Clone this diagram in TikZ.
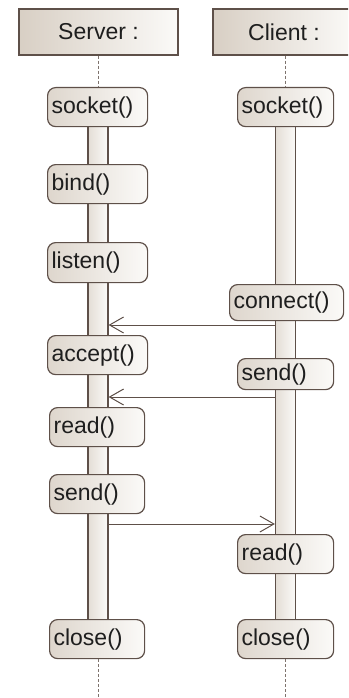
\documentclass[tikz,border=0pt]{standalone}
\usepackage{fontspec}
\setmainfont{Liberation Sans}
\usetikzlibrary{arrows.meta}
\definecolor{edge}{HTML}{5E5049}
\definecolor{fillL}{HTML}{D8CFC4}
\definecolor{fillR}{HTML}{FBFAF8}
\definecolor{txt}{HTML}{1E1E1E}
\tikzset{
  hdr/.style={draw=edge, line width=1.2pt, left color=fillL, right color=fillR,
    minimum height=46pt, inner sep=0pt, text=txt, font=\fontsize{23}{26}\selectfont},
  opbox/.style n args={3}{draw=edge, line width=1.2pt, rounded corners=8pt,
    left color=fillL!85, right color=fillR, minimum width=#1pt, minimum height=#2pt,
    text width=#3pt, align=left, inner xsep=4pt, inner ysep=0pt, text=txt,
    font=\fontsize{23}{26}\selectfont},
  actbar/.style={draw=edge, line width=1.2pt, left color=fillL!70, right color=fillR,
    minimum width=20pt, inner sep=0pt},
  life/.style={draw=edge!80, line width=0.9pt, dash pattern=on 3pt off 2pt},
  msg/.style={draw=edge, line width=1pt, -{Straight Barb[length=14pt,width=16pt,line width=1pt]}}
}
\begin{document}
\begin{tikzpicture}[x=1pt,y=-1pt]
\useasboundingbox (0,0) rectangle (348,698);
\clip (0,0) rectangle (348,698);
% activation bars
\node[actbar, minimum height=493pt, anchor=north] (sbar) at (98,126) {};
\node[actbar, minimum height=493pt, anchor=north] (cbar) at (285.5,126) {};
% headers
\node[hdr, minimum width=159pt] (shd) at (98.5,32) {Server :};
\node[hdr, minimum width=142pt] (chd) at (284,32) {Client :};
% server ops
\node[opbox={100}{39}{92}, anchor=north west] (ssock) at (47,87) {socket()};
\node[opbox={100}{39}{92}, anchor=north west] (sbind) at (47,164) {bind()};
\node[opbox={100}{40}{92}, anchor=north west] (slist) at (47,242) {listen()};
\node[opbox={100}{39}{92}, anchor=north west] (sacc) at (47,335) {accept()};
\node[opbox={95}{39}{87}, anchor=north west] (sread) at (49,407) {read()};
\node[opbox={95}{39}{87}, anchor=north west] (ssend) at (49,474) {send()};
\node[opbox={95}{39}{87}, anchor=north west] (sclose) at (49,619) {close()};
% client ops
\node[opbox={96}{39}{88}, anchor=north west] (csock) at (237,87) {socket()};
\node[opbox={114}{36}{106}, anchor=north west] (cconn) at (229,284) {connect()};
\node[opbox={96}{31}{88}, anchor=north west] (csend) at (237,358) {send()};
\node[opbox={96}{39}{88}, anchor=north west] (cread) at (237,534) {read()};
\node[opbox={96}{39}{88}, anchor=north west] (cclose) at (237,619) {close()};
% lifelines
\coordinate (send) at (98,698);
\coordinate (cend) at (285.5,698);
\draw[life] (shd.south -| sbar.north) -- (ssock.north -| sbar.north);
\draw[life] (chd.south -| cbar.north) -- (csock.north -| cbar.north);
\draw[life] (sclose.south -| sbar.south) -- (send);
\draw[life] (cclose.south -| cbar.south) -- (cend);
% messages
\coordinate (m1) at (0,325);
\coordinate (m2) at (0,397);
\coordinate (m3) at (0,524);
\draw[msg] (cbar.west |- m1) -- (sbar.east |- m1);
\draw[msg] (cbar.west |- m2) -- (sbar.east |- m2);
\draw[msg] (sbar.east |- m3) -- (cbar.west |- m3);
\end{tikzpicture}
\end{document}
